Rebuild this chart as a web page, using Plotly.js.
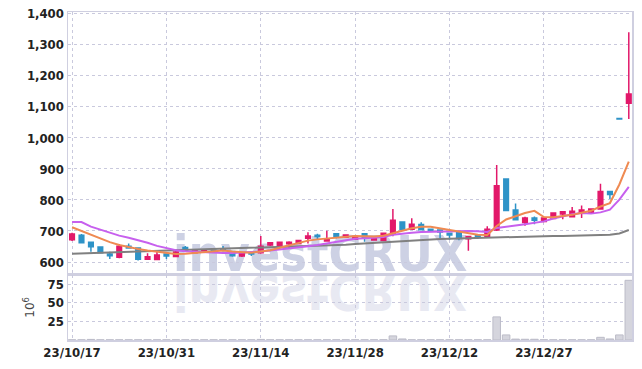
<!DOCTYPE html>
<html><head><meta charset="utf-8">
<script src="https://cdn.plot.ly/plotly-3.0.1.min.js"></script>
<style>html,body{margin:0;padding:0;background:#fff}#chart{width:642px;height:369px}</style>
</head><body><div id="chart"></div>
<script>
const dates = ["23/10/17","23/10/18","23/10/19","23/10/20","23/10/23","23/10/24","23/10/25","23/10/26","23/10/27","23/10/30","23/10/31",
"23/11/01","23/11/02","23/11/03","23/11/06","23/11/07","23/11/08","23/11/09","23/11/10","23/11/13","23/11/14","23/11/15","23/11/16","23/11/17","23/11/20","23/11/21","23/11/22","23/11/23","23/11/24","23/11/27","23/11/28","23/11/29","23/11/30",
"23/12/01","23/12/04","23/12/05","23/12/06","23/12/07","23/12/08","23/12/11","23/12/12","23/12/13","23/12/14","23/12/15","23/12/18","23/12/19","23/12/20","23/12/21","23/12/22","23/12/26","23/12/27","23/12/28",
"24/01/02","24/01/03","24/01/04","24/01/05","24/01/08","24/01/09","24/01/10","24/01/11"];
const openP  = [672,686,664,648,626,615,651,645,609,608,626,618,647,630,633,638,642,634,619,628,630,655,654,659,660,677,686,668,691,680,673,691,671,669,692,729,706,721,706,703,693,696,675,685,681,703,868,768,727,742,731,740,755,746,760,760,771,827,1063,1112];
const highP  = [694,690,666,650,633,658,660,647,628,632,628,636,652,638,641,640,652,636,630,630,684,664,666,667,671,696,691,701,693,689,684,693,680,695,771,731,741,728,708,705,695,698,684,690,715,913,868,789,746,747,744,760,764,777,782,773,852,829,1063,1341];
const lowP   = [668,660,633,628,610,612,643,605,607,606,610,616,634,628,631,630,634,617,616,619,627,652,643,643,658,660,674,667,676,678,671,665,669,667,683,703,704,702,698,677,672,670,636,674,679,700,766,734,717,722,729,738,738,744,742,758,769,803,1061,1061];
const closeP = [690,662,649,630,620,651,645,609,617,623,619,632,636,636,639,634,638,620,628,626,651,662,664,664,669,684,682,675,682,687,682,678,678,693,735,705,722,704,700,697,687,676,682,682,706,846,766,736,742,735,742,758,762,764,768,771,827,818,1061,1142];
const ma5  = [712,700,688,676,664,655,648,642,637,633,629,626,627,630,632,635,637,634,632,630,634,638,646,653,662,669,673,676,679,683,684,683,682,685,694,701,709,714,714,709,704,697,692,688,687,716,737,748,758,765,745,744,748,752,759,765,779,790,850,924];
const ma10 = [729,729,714,704,694,685,678,671,662,652,644,638,635,633,632,630,629,629,630,631,634,637,640,643,646,651,655,660,666,672,675,677,678,681,688,690,694,697,698,699,700,700,700,699,697,710,715,718,722,726,731,740,748,754,758,756,760,769,801,842];
const ma60 = [627,628,628,629,630,631,632,633,634,635,636,637,638,639,640,641,642,643,643,644,645,646,647,648,649,650,652,653,654,656,658,660,662,664,666,668,670,672,673,674,675,676,677,677,678,679,680,681,681,682,683,684,684,685,685,686,687,688,692,703];
const volume = [0.2,0.2,0.8,0.2,0.2,0.2,0.2,0.2,0.2,0.2,0.2,0.2,0.2,0.2,0.2,0.2,0.2,0.2,0.2,0.2,0.8,0.2,0.2,0.2,0.2,0.2,0.2,0.2,0.2,0.2,0.2,0.2,0.2,0.3,5.5,1.4,0.2,0.2,0.2,0.2,0.2,0.2,0.2,0.2,0.2,31,6.8,1.2,1.0,1.0,0.3,0.2,0.2,0.2,0.2,0.2,3.6,1.4,6.8,80];
const tickDates = ["23/10/17","23/10/31","23/11/14","23/11/28","23/12/12","23/12/27"];
const priceTicks = [600,700,800,900,1000,1100,1200,1300,1400];
const volTicks = [25,50,75];

const UP = '#e2186a', DOWN = '#2e93c7';
const FAM = "'DejaVu Sans Condensed', 'DejaVu Sans', sans-serif";
const tickFont = {family:FAM, size:13, color:'#222', weight:'bold'};
const gridC = '#c9c9dd', lineC = '#cfcfe0';

const data = [
  {type:'bar', x:dates, y:volume, xaxis:'x', yaxis:'y2', marker:{color:'#d5d5dd', line:{color:'#bcbcc8', width:1}}, hoverinfo:'skip'},
  {type:'candlestick', x:dates, open:openP, high:highP, low:lowP, close:closeP, xaxis:'x', yaxis:'y',
   increasing:{line:{color:UP, width:1.5}, fillcolor:UP}, decreasing:{line:{color:DOWN, width:1.5}, fillcolor:DOWN}, whiskerwidth:0},
  {type:'scatter', mode:'lines', x:dates, y:ma60, xaxis:'x', yaxis:'y', line:{color:'#808080', width:2}},
  {type:'scatter', mode:'lines', x:dates, y:ma10, xaxis:'x', yaxis:'y', line:{color:'#c760ee', width:2}},
  {type:'scatter', mode:'lines', x:dates, y:ma5, xaxis:'x', yaxis:'y', line:{color:'#ef8a52', width:2}}
];

const layout = {
  width:642, height:369, showlegend:false,
  margin:{l:68, r:10, t:12, b:29},
  paper_bgcolor:'#fff', plot_bgcolor:'rgba(0,0,0,0)',
  xaxis:{type:'category', range:[-0.43,59.34], anchor:'y2', tickmode:'array', tickvals:tickDates, ticktext:tickDates,
    tickfont:tickFont, ticks:'', showgrid:true, gridcolor:gridC, griddash:'dot', gridwidth:1,
    showline:true, linecolor:lineC, linewidth:1.5, mirror:'all', rangeslider:{visible:false}, zeroline:false},
  yaxis:{domain:[0.199,1], range:[559,1406], tickmode:'array', tickvals:priceTicks, tickformat:',', tickfont:tickFont,
    ticks:'', showgrid:true, gridcolor:gridC, griddash:'dot', showline:true, linecolor:lineC, linewidth:1.5, mirror:true, zeroline:false},
  yaxis2:{domain:[0,0.199], range:[0,87.5], tickmode:'array', tickvals:volTicks, tickfont:tickFont,
    ticks:'', showgrid:true, gridcolor:gridC, griddash:'dot', showline:true, linecolor:lineC, linewidth:1.5, mirror:true, zeroline:false,
    title:{text:'10<sup>6</sup>', font:{family:"'DejaVu Sans', sans-serif", size:12, color:'#444'}, standoff:10}},
  annotations:[
    {text:'investCRUX', xref:'paper', yref:'paper', x:0.447, y:0.262, xanchor:'center', yanchor:'middle', showarrow:false,
     font:{family:FAM, size:50, weight:'bold', color:'#cdd1e4'}},
    {text:'investCRUX', xref:'paper', yref:'paper', x:0.447, y:0.262, xanchor:'center', yanchor:'middle', showarrow:false,
     font:{family:FAM, size:50, weight:'bold', color:'#e8e9f2'}}
  ]
};

Plotly.newPlot('chart', data, layout, {staticPlot:true}).then(function(gd){
  try {
    const paper = gd.querySelector('.main-svg');
    const cart = paper.querySelector('.cartesianlayer');
    const anns = gd.querySelectorAll('g.annotation');
    anns.forEach(a => cart.parentNode.insertBefore(a, cart));
    const t = anns[0].querySelector('text');
    const bb = t.getBBox();
    const ctm = t.getCTM();
    const bottom = ctm.f + (bb.y + bb.height) * ctm.d;
    const baseline = bottom - 0.236*50 + 2;
    anns[1].setAttribute('transform', 'translate(0,' + (2*baseline) + ') scale(1,-1)');
  } catch(e) { console.log(e); }
});
</script>
</body></html>
